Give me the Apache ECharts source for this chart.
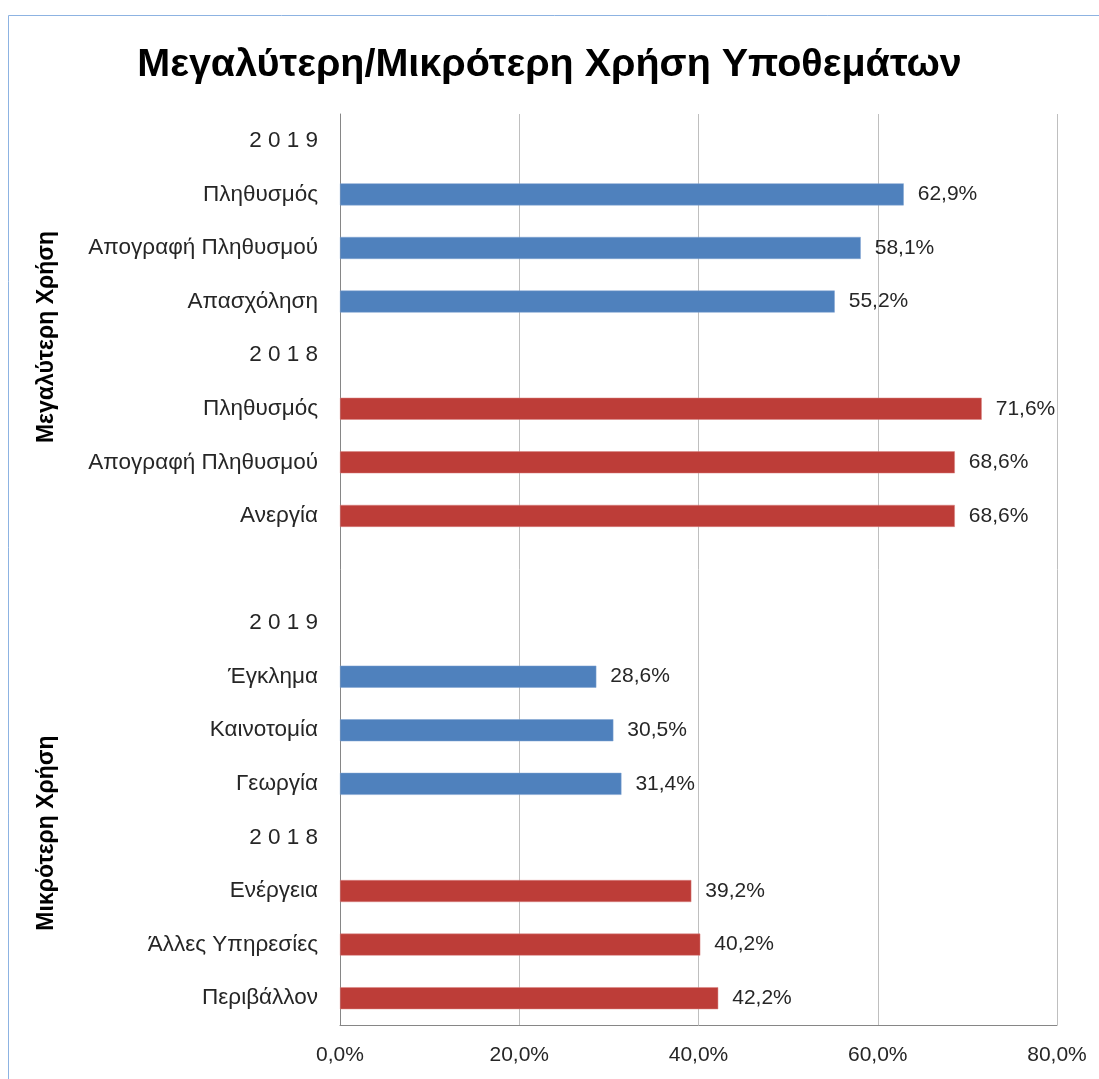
<!DOCTYPE html>
<html>
<head>
<meta charset="utf-8">
<script src="https://cdn.jsdelivr.net/npm/echarts@6/dist/echarts.min.js"></script>
<style>
html,body{margin:0;padding:0;background:#fff;}
#chart{width:1099px;height:1079px;}
</style>
</head>
<body>
<div id="chart"></div>
<script>
const titleText = 'Μεγαλύτερη/Μικρότερη Χρήση Υποθεμάτων';
const groupLabels = ['Μεγαλύτερη Χρήση', 'Μικρότερη Χρήση'];
const categories = [
  '2 0 1 9', 'Πληθυσμός', 'Απογραφή Πληθυσμού', 'Απασχόληση',
  '2 0 1 8', 'Πληθυσμός', 'Απογραφή Πληθυσμού', 'Ανεργία',
  '',
  '2 0 1 9', 'Έγκλημα', 'Καινοτομία', 'Γεωργία',
  '2 0 1 8', 'Ενέργεια', 'Άλλες Υπηρεσίες', 'Περιβάλλον'
];
const values2019 = [null, 62.9, 58.1, 55.2, null, null, null, null, null, null, 28.6, 30.5, 31.4, null, null, null, null];
const values2018 = [null, null, null, null, null, 71.6, 68.6, 68.6, null, null, null, null, null, null, 39.2, 40.2, 42.2];
const xTicks = [0, 20, 40, 60, 80];

const fmt = v => v.toFixed(1).replace('.', ',') + '%';
const FONT = 'Liberation Sans';

const chart = echarts.init(document.getElementById('chart'), null, {renderer: 'canvas'});
const labelCfg = {
  show: true, position: 'right', distance: 14,
  color: '#262626', fontSize: 21, fontFamily: FONT,
  formatter: p => fmt(p.value)
};
chart.setOption({
  animation: false,
  backgroundColor: '#fff',
  title: {
    text: titleText, left: 'center', top: 40,
    textStyle: {fontFamily: FONT, fontWeight: 'bold', fontSize: 39.5, color: '#000'}
  },
  grid: {left: 340, right: 42, top: 114, bottom: 54, containLabel: false},
  xAxis: {
    type: 'value', min: xTicks[0], max: xTicks[xTicks.length - 1], interval: 20,
    axisLine: {show: true, lineStyle: {color: '#868686', width: 1}},
    axisTick: {show: false},
    splitLine: {show: true, lineStyle: {color: '#BFBFBF', width: 1}},
    axisLabel: {formatter: v => fmt(v), fontFamily: FONT, fontSize: 21, color: '#262626', margin: 20}
  },
  yAxis: {
    type: 'category', inverse: true, data: categories,
    axisLine: {show: true, lineStyle: {color: '#868686', width: 1}},
    axisTick: {show: false},
    axisLabel: {fontFamily: FONT, fontSize: 22.5, color: '#262626', margin: 22, interval: 0}
  },
  series: [
    {
      name: '2019', type: 'bar', data: values2019, barWidth: 22, barGap: '-100%',
      itemStyle: {color: '#4F81BD', borderColor: '#7FA3D0', borderWidth: 0.5},
      label: labelCfg
    },
    {
      name: '2018', type: 'bar', data: values2018, barWidth: 22, barGap: '-100%',
      itemStyle: {color: '#BD3D38', borderColor: '#D98482', borderWidth: 0.5},
      label: labelCfg
    }
  ],
  graphic: [
    {type: 'rect', shape: {x: 8.5, y: 15.5, width: 1200, height: 1200},
     style: {fill: 'none', stroke: '#8DB3E2', lineWidth: 1}, silent: true, z: -1},
    {type: 'text', x: 47, y: 337, rotation: Math.PI / 2,
     style: {text: groupLabels[0], fontFamily: FONT, fontWeight: 'bold', fontSize: 23, fill: '#000',
             align: 'center', verticalAlign: 'middle'}},
    {type: 'text', x: 47, y: 833, rotation: Math.PI / 2,
     style: {text: groupLabels[1], fontFamily: FONT, fontWeight: 'bold', fontSize: 23, fill: '#000',
             align: 'center', verticalAlign: 'middle'}}
  ]
});
</script>
</body>
</html>
